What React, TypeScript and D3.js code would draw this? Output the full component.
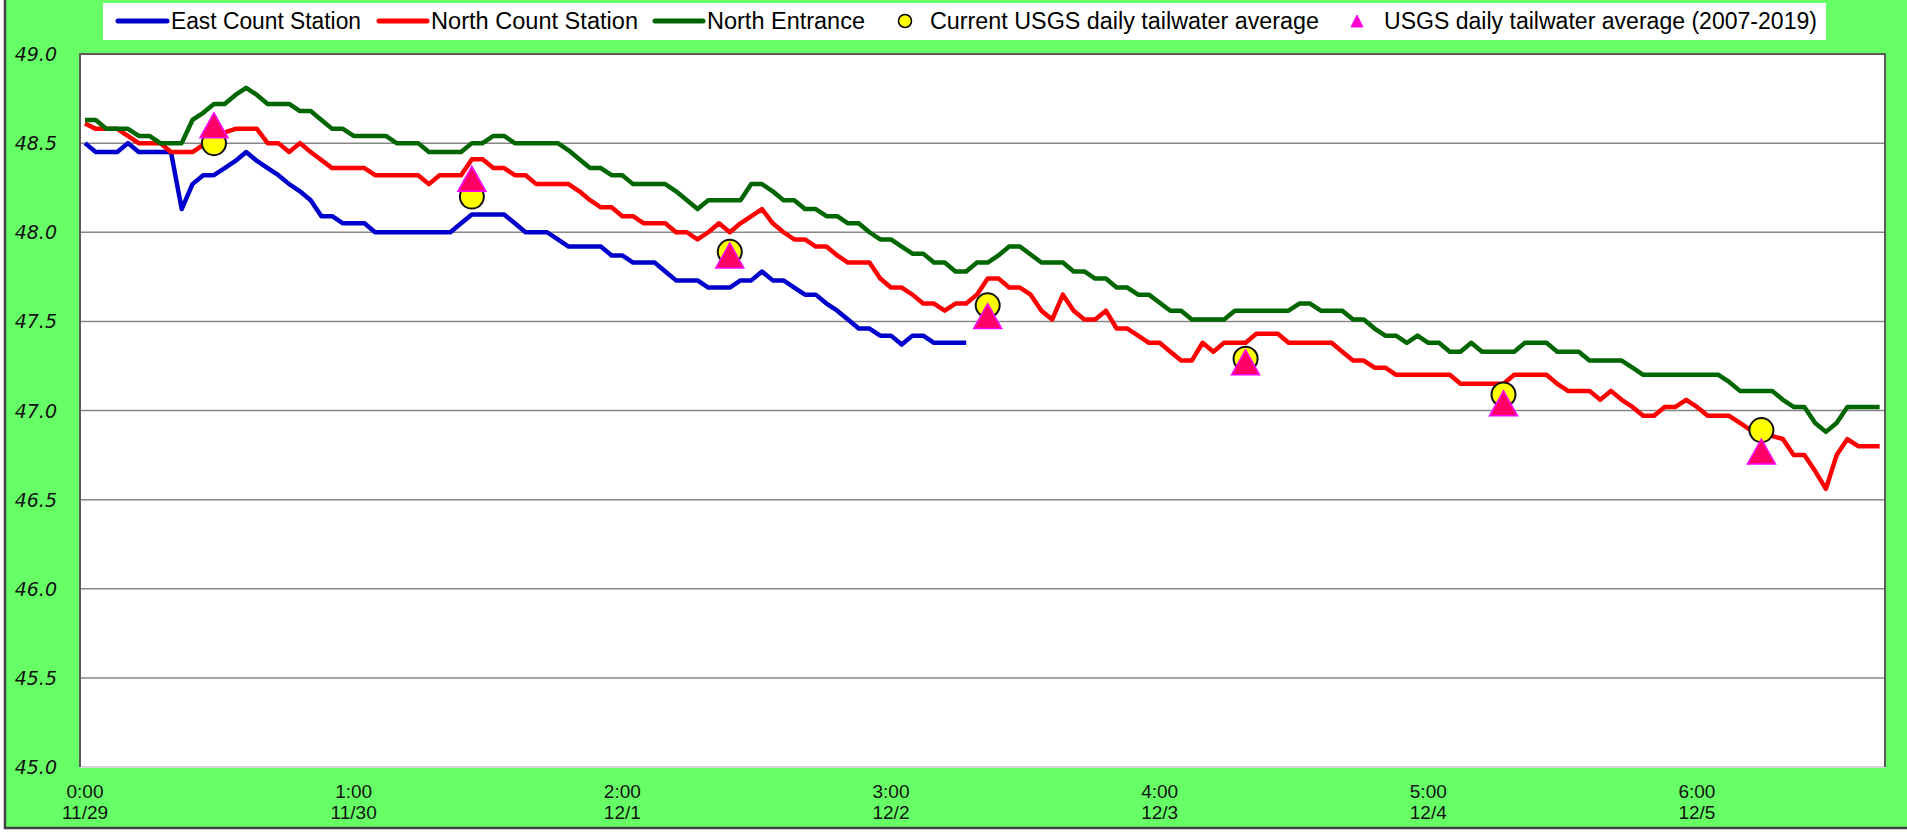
import * as d3 from "d3";

// water surface elevation readings, [hour since 11/29 0:00, level]
const eastCount: [number, number][] = [
  [0, 48.5], [1, 48.45], [3, 48.45], [4, 48.5], [5, 48.45], [8, 48.45], [9, 48.13], [10, 48.27],
  [11, 48.32], [12, 48.32], [13, 48.36], [14, 48.4], [15, 48.45], [16, 48.4], [17, 48.36], [18, 48.32],
  [19, 48.27], [20, 48.23], [21, 48.18], [22, 48.09], [23, 48.09], [24, 48.05], [26, 48.05], [27, 48.0],
  [34, 48.0], [35, 48.05], [36, 48.1], [39, 48.1], [40, 48.05], [41, 48.0], [43, 48.0], [44, 47.96],
  [45, 47.92], [48, 47.92], [49, 47.87], [50, 47.87], [51, 47.83], [53, 47.83], [54, 47.78], [55, 47.73],
  [57, 47.73], [58, 47.69], [60, 47.69], [61, 47.73], [62, 47.73], [63, 47.78], [64, 47.73], [65, 47.73],
  [66, 47.69], [67, 47.65], [68, 47.65], [69, 47.6], [70, 47.56], [71, 47.51], [72, 47.46], [73, 47.46],
  [74, 47.42], [75, 47.42], [76, 47.37], [77, 47.42], [78, 47.42], [79, 47.38], [82, 47.38],
];

const northCount: [number, number][] = [
  [0, 48.61], [1, 48.58], [3, 48.58], [5, 48.5], [7, 48.5], [8, 48.45], [10, 48.45], [11, 48.49],
  [12, 48.54], [14, 48.58], [16, 48.58], [17, 48.5], [18, 48.5], [19, 48.45], [20, 48.5], [21, 48.45],
  [23, 48.36], [26, 48.36], [27, 48.32], [31, 48.32], [32, 48.27], [33, 48.32], [35, 48.32], [36, 48.41],
  [37, 48.41], [38, 48.36], [39, 48.36], [40, 48.32], [41, 48.32], [42, 48.27], [45, 48.27], [46, 48.23],
  [47, 48.18], [48, 48.14], [49, 48.14], [50, 48.09], [51, 48.09], [52, 48.05], [54, 48.05], [55, 48.0],
  [56, 48.0], [57, 47.96], [58, 48.0], [59, 48.05], [60, 48.0], [61, 48.05], [63, 48.13], [64, 48.05],
  [65, 48.0], [66, 47.96], [67, 47.96], [68, 47.92], [69, 47.92], [70, 47.87], [71, 47.83], [73, 47.83],
  [74, 47.74], [75, 47.69], [76, 47.69], [77, 47.65], [78, 47.6], [79, 47.6], [80, 47.56], [81, 47.6],
  [82, 47.6], [83, 47.65], [84, 47.74], [85, 47.74], [86, 47.69], [87, 47.69], [88, 47.65], [89, 47.56],
  [90, 47.51], [91, 47.65], [92, 47.56], [93, 47.51], [94, 47.51], [95, 47.56], [96, 47.46], [97, 47.46],
  [98, 47.42], [99, 47.38], [100, 47.38], [101, 47.33], [102, 47.28], [103, 47.28], [104, 47.38], [105, 47.33],
  [106, 47.38], [108, 47.38], [109, 47.43], [111, 47.43], [112, 47.38], [116, 47.38], [117, 47.33], [118, 47.28],
  [119, 47.28], [120, 47.24], [121, 47.24], [122, 47.2], [127, 47.2], [128, 47.15], [132, 47.15], [133, 47.2],
  [136, 47.2], [137, 47.15], [138, 47.11], [140, 47.11], [141, 47.06], [142, 47.11], [143, 47.06], [144, 47.02],
  [145, 46.97], [146, 46.97], [147, 47.02], [148, 47.02], [149, 47.06], [150, 47.02], [151, 46.97], [153, 46.97],
  [154, 46.93], [155, 46.89], [158, 46.84], [159, 46.75], [160, 46.75], [161, 46.66], [162, 46.56], [163, 46.75],
  [164, 46.84], [165, 46.8], [167, 46.8],
];

const northEntrance: [number, number][] = [
  [0, 48.63], [1, 48.63], [2, 48.58], [4, 48.58], [5, 48.54], [6, 48.54], [7, 48.5], [9, 48.5],
  [10, 48.63], [11, 48.67], [12, 48.72], [13, 48.72], [14, 48.77], [15, 48.81], [16, 48.77], [17, 48.72],
  [19, 48.72], [20, 48.68], [21, 48.68], [22, 48.63], [23, 48.58], [24, 48.58], [25, 48.54], [28, 48.54],
  [29, 48.5], [31, 48.5], [32, 48.45], [35, 48.45], [36, 48.5], [37, 48.5], [38, 48.54], [39, 48.54],
  [40, 48.5], [44, 48.5], [45, 48.46], [46, 48.41], [47, 48.36], [48, 48.36], [49, 48.32], [50, 48.32],
  [51, 48.27], [54, 48.27], [55, 48.23], [57, 48.13], [58, 48.18], [61, 48.18], [62, 48.27], [63, 48.27],
  [64, 48.23], [65, 48.18], [66, 48.18], [67, 48.13], [68, 48.13], [69, 48.09], [70, 48.09], [71, 48.05],
  [72, 48.05], [73, 48.0], [74, 47.96], [75, 47.96], [76, 47.92], [77, 47.88], [78, 47.88], [79, 47.83],
  [80, 47.83], [81, 47.78], [82, 47.78], [83, 47.83], [84, 47.83], [85, 47.87], [86, 47.92], [87, 47.92],
  [89, 47.83], [91, 47.83], [92, 47.78], [93, 47.78], [94, 47.74], [95, 47.74], [96, 47.69], [97, 47.69],
  [98, 47.65], [99, 47.65], [101, 47.56], [102, 47.56], [103, 47.51], [106, 47.51], [107, 47.56], [112, 47.56],
  [113, 47.6], [114, 47.6], [115, 47.56], [117, 47.56], [118, 47.51], [119, 47.51], [120, 47.46], [121, 47.42],
  [122, 47.42], [123, 47.38], [124, 47.42], [125, 47.38], [126, 47.38], [127, 47.33], [128, 47.33], [129, 47.38],
  [130, 47.33], [133, 47.33], [134, 47.38], [136, 47.38], [137, 47.33], [139, 47.33], [140, 47.28], [143, 47.28],
  [144, 47.24], [145, 47.2], [152, 47.2], [153, 47.16], [154, 47.11], [157, 47.11], [158, 47.06], [159, 47.02],
  [160, 47.02], [161, 46.93], [162, 46.88], [163, 46.93], [164, 47.02], [167, 47.02],
];

// daily averages, plotted at noon of each day
const dailyHours = [12, 36, 60, 84, 108, 132, 156];
const currentUsgs = [48.5, 48.2, 47.89, 47.59, 47.29, 47.09, 46.89];
const historicUsgs = [48.6, 48.3, 47.87, 47.53, 47.27, 47.04, 46.77];

const xTickHours = [0, 25, 50, 75, 100, 125, 150];
const xTickTimes = ["0:00", "1:00", "2:00", "3:00", "4:00", "5:00", "6:00"];
const xTickDates = ["11/29", "11/30", "12/1", "12/2", "12/3", "12/4", "12/5"];
const yTicks = [45, 45.5, 46, 46.5, 47, 47.5, 48, 48.5, 49];

const W = 1907;
const H = 833;
const plot = { left: 80, right: 1885, top: 54, bottom: 767 };
const narrow = "'Liberation Sans Narrow', 'Arial Narrow', 'Liberation Sans', sans-serif";

const x = d3.scaleLinear().domain([-0.465, 167.5]).range([plot.left, plot.right]);
const y = d3.scaleLinear().domain([45, 49]).range([plot.bottom, plot.top]);

const line = d3
  .line<[number, number]>()
  .x((d) => x(d[0]))
  .y((d) => y(d[1]));

const series = [
  { name: "East Count Station", data: eastCount, color: "#0000CC" },
  { name: "North Count Station", data: northCount, color: "#FF0000" },
  { name: "North Entrance", data: northEntrance, color: "#006600" },
];

const triPath = (w: number, h: number) => `M0,${-h / 2}L${w / 2},${h / 2}L${-w / 2},${h / 2}Z`;

const App = () => {
  const legendLines = [
    { x1: 118, x2: 167, tx: 171, len: 190, ...series[0] },
    { x1: 379, x2: 427, tx: 431, len: 207, ...series[1] },
    { x1: 655, x2: 703, tx: 707, len: 158, ...series[2] },
  ];

  return (
    <svg
      width={W}
      height={H}
      style={{ position: "absolute", left: 0, top: 0, display: "block" }}
    >
      {/* outer chart area, cropped on top and right */}
      <rect x={5} y={-10} width={W + 10} height={838} fill="#66FF66" stroke="#404040" strokeWidth={2.5} />

      {/* legend */}
      <rect x={103} y={3} width={1723} height={37} fill="#ffffff" />
      {legendLines.map((l) => (
        <g key={l.name}>
          <line x1={l.x1} x2={l.x2} y1={21} y2={21} stroke={l.color} strokeWidth={5} strokeLinecap="round" />
          <text x={l.tx} y={29} fontFamily={narrow} fontSize={23} fill="#000" textLength={l.len} lengthAdjust="spacingAndGlyphs">
            {l.name}
          </text>
        </g>
      ))}
      <circle cx={905} cy={21} r={6.5} fill="#FFFF00" stroke="#000" strokeWidth={1.5} />
      <text x={930} y={29} fontFamily={narrow} fontSize={23} fill="#000" textLength={389} lengthAdjust="spacingAndGlyphs">
        Current USGS daily tailwater average
      </text>
      <path d={triPath(12, 12)} transform="translate(1357,21)" fill="#FF00CC" stroke="#FF00FF" strokeWidth={1} />
      <text x={1384} y={29} fontFamily={narrow} fontSize={23} fill="#000" textLength={433} lengthAdjust="spacingAndGlyphs">
        USGS daily tailwater average (2007-2019)
      </text>

      {/* plot area */}
      <rect x={plot.left} y={plot.top} width={plot.right - plot.left} height={plot.bottom - plot.top} fill="#ffffff" />
      {yTicks.slice(1, -1).map((t) => (
        <line key={t} x1={plot.left} x2={plot.right} y1={y(t)} y2={y(t)} stroke="#868686" strokeWidth={1.5} />
      ))}
      <line x1={plot.left} x2={plot.right} y1={plot.bottom} y2={plot.bottom} stroke="#d4d4d4" strokeWidth={2} />
      <path
        d={`M${plot.left},${plot.bottom}V${plot.top}H${plot.right}V${plot.bottom}`}
        fill="none"
        stroke="#5a5a5a"
        strokeWidth={2}
      />

      {yTicks.map((t) => (
        <text
          key={t}
          x={57}
          y={y(t)}
          textAnchor="end"
          dominantBaseline="central"
          fontFamily="'DejaVu Sans', Verdana, sans-serif"
          fontStyle="italic"
          fontSize={19}
          fill="#111"
        >
          {t.toFixed(1)}
        </text>
      ))}

      {xTickHours.map((h, i) => (
        <g key={h} fontFamily={narrow} fontSize={19} fill="#111" textAnchor="middle">
          <text x={x(h)} y={791} dominantBaseline="central">
            {xTickTimes[i]}
          </text>
          <text x={x(h)} y={812} dominantBaseline="central">
            {xTickDates[i]}
          </text>
        </g>
      ))}

      {/* series */}
      {series.map((s) => (
        <path
          key={s.name}
          d={line(s.data) ?? ""}
          fill="none"
          stroke={s.color}
          strokeWidth={4.5}
          strokeLinejoin="round"
        />
      ))}

      {dailyHours.map((h, i) => (
        <circle key={h} cx={x(h)} cy={y(currentUsgs[i])} r={12} fill="#FFFF00" stroke="#111" strokeWidth={2} />
      ))}
      {dailyHours.map((h, i) => (
        <path
          key={h}
          d={triPath(28, 25)}
          transform={`translate(${x(h)},${y(historicUsgs[i])})`}
          fill="#FF0066"
          stroke="#FF00FF"
          strokeWidth={1.5}
        />
      ))}
    </svg>
  );
};

export default App;
